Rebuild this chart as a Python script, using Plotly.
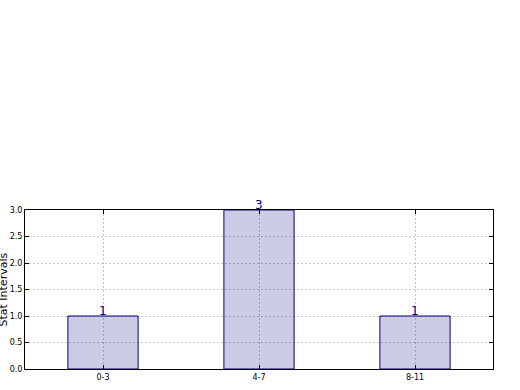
import plotly.graph_objects as go

categories = ["0-3", "4-7", "8-11"]
counts = [1, 3, 1]
y_ticks = [0.0, 0.5, 1.0, 1.5, 2.0, 2.5, 3.0]
y_tick_labels = ["0.0", "0.5", "1.0", "1.5", "2.0", "2.5", "3.0"]

fig = go.Figure()
fig.add_trace(go.Bar(
    x=categories, y=counts, width=0.45,
    marker=dict(color="rgba(0,0,128,0.2)", line=dict(color="#000080", width=1)),
    cliponaxis=False, hoverinfo="skip",
))

for c, v in zip(categories, counts):
    fig.add_annotation(x=c, y=v, xref="x", yref="y", text=str(v), showarrow=False,
                       yanchor="bottom", yshift=-4,
                       font=dict(family="DejaVu Sans", size=12, color="#00008b"))

fig.add_annotation(xref="paper", yref="paper", x=0, y=0.5, xshift=-22, text="Stat Intervals",
                   textangle=-90, showarrow=False, xanchor="center", yanchor="middle",
                   font=dict(family="DejaVu Sans", size=11, color="black"))
fig.add_annotation(xref="paper", yref="paper", x=0.5, y=0, yshift=-21, text="Frequency",
                   showarrow=False, xanchor="center", yanchor="top",
                   font=dict(family="DejaVu Sans", size=11, color="black"))

axis_common = dict(showline=True, linecolor="black", linewidth=1, mirror="allticks",
                   ticks="inside", ticklen=4, tickcolor="black", tickwidth=1,
                   showgrid=True, gridcolor="#c4c4c4", griddash="2px,2px", gridwidth=1,
                   zeroline=False, tickfont=dict(family="DejaVu Sans", size=8, color="black"))

fig.update_xaxes(range=[-0.5, 2.5], **axis_common)
fig.update_yaxes(range=[0, 3], tickvals=y_ticks, ticktext=y_tick_labels, **axis_common)

fig.update_layout(width=520, height=390, margin=dict(l=25, r=27, t=210, b=21, autoexpand=False),
                  paper_bgcolor="white", plot_bgcolor="white", showlegend=False)

fig.write_html("out.html")
